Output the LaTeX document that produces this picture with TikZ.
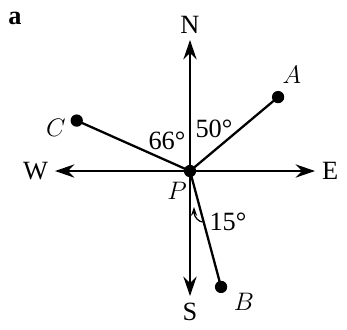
\documentclass[tikz,border=0pt]{standalone}
\usepackage{fontspec}
\setmainfont{Liberation Serif}
\usetikzlibrary{arrows.meta}

\begin{document}
\begin{tikzpicture}[x=0.02cm, y=0.02cm, >={Stealth[length=11pt,width=7.5pt]},
    line width=1.3pt, font=\fontsize{15}{17}\selectfont,
    dot/.style={circle, fill, inner sep=0pt, minimum size=7pt}]
        \useasboundingbox (-190,-158) rectangle (157,171);
        % ==== CENTRE AND END POINTS ====
        \node[dot] (P) at (0,0) {};
        \node[dot] (A) at (40:115) {};
        \node[dot] (C) at (156:124) {};
        \node[dot] (B) at (-75:120) {};
        \coordinate (N) at (0,131);
        \coordinate (S) at (0,-125);
        \coordinate (W) at (-135,0);
        \coordinate (E) at (125,0);
        % ==== COMPASS AXES ====
        \draw[->] (P.center) -- (N) node[above=0pt] {N};
        \draw[->] (P.center) -- (S) node[below=0pt] {S};
        \draw[->] (P.center) -- (W) node[left=0pt] {W};
        \draw[->] (P.center) -- (E) node[right=0pt] {E};
        % ==== BEARINGS ====
        \draw (P.center) -- (A.center);
        \draw (P.center) -- (C.center);
        \draw (P.center) -- (B.center);
        \node at (102,96) {$A$};
        \node at (-134,43) {$C$};
        \node at (54,-131) {$B$};
        \node at (-13,-20) {$P$};
        \node at (-23,30) {66\textdegree};
        \node at (24,42) {50\textdegree};
        \node (ang) at (38,-51) {15\textdegree};
        \draw[line width=0.7pt, -{Stealth[length=5pt,width=3.5pt]}] (ang.west) .. controls (9,-51) and (4,-46) .. (4,-36);
        % ==== Label ====
        \node at (-175,153) {\textbf{a}};
     \end{tikzpicture}
\end{document}
